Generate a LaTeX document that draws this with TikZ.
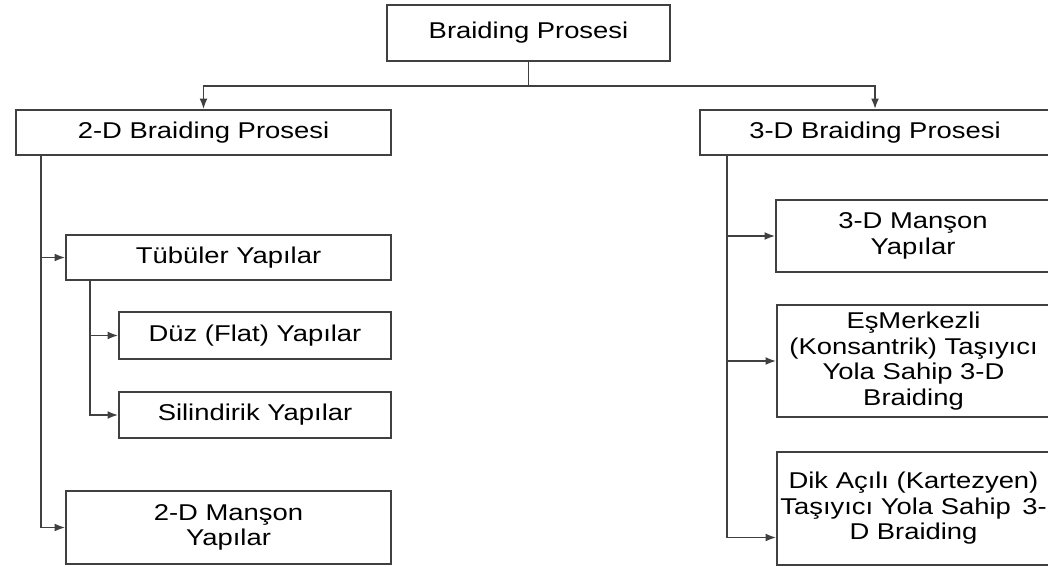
\documentclass[tikz,border=0pt]{standalone}
\usepackage{fontspec}
\setmainfont[FakeStretch=1.2]{Liberation Sans}
\usetikzlibrary{arrows.meta}

\tikzset{
  box/.style={draw=black!75, line width=1pt, rectangle, align=center,
    inner sep=0pt, font=\fontsize{13}{14.5}\selectfont},
  arr/.style={draw=black!75, line width=1pt, -{Latex[length=6pt,width=4.5pt]}},
  link/.style={draw=black!75, line width=1pt}
}

\begin{document}
\begin{tikzpicture}[x=0.02cm, y=-0.02cm]
    \useasboundingbox (0,0) rectangle (1048,567);
    % upper level
    \node[box, minimum width=5.66cm, minimum height=1.12cm] (top) at (528.5,33) {Braiding Prosesi};
    \node[box, minimum width=7.5cm, minimum height=0.9cm] (d2) at (203.5,132.5) {2-D Braiding Prosesi};
    \node[box, minimum width=7.0cm, minimum height=0.9cm] (d3) at (875,132.5) {3-D Braiding Prosesi};
    % 2-D side
    \node[box, minimum width=6.5cm, minimum height=0.9cm] (tub) at (228.5,257.5) {Tübüler Yapılar};
    \node[box, minimum width=5.44cm, minimum height=0.94cm] (duz) at (255,335.5) {Düz (Flat) Yapılar};
    \node[box, minimum width=5.44cm, minimum height=0.92cm] (sil) at (255,415) {Silindirik Yapılar};
    \node[box, minimum width=6.5cm, minimum height=1.46cm] (m2) at (228.5,527.5) {2-D Manşon\\ Yapılar};
    % 3-D side
    \node[box, minimum width=5.48cm, minimum height=1.44cm] (m3) at (913,236) {3-D Manşon\\ Yapılar};
    \node[box, minimum width=5.46cm, minimum height=2.24cm] (esm) at (913.5,361) {EşMerkezli\\ (Konsantrik) Taşıyıcı\\ Yola Sahip 3-D\\ Braiding};
    \node[box, minimum width=5.46cm, minimum height=2.26cm] (dik) at (913.5,508.5) {Dik Açılı (Kartezyen)\\ Taşıyıcı Yola Sahip\ \,3-\\ D Braiding};

    % branch points
    \coordinate (l2) at (41,155);
    \coordinate (lt) at (90,280);
    \coordinate (r3) at (727,155);

    \draw[arr] (top.south) -- ++(0,24) -| (d2.north);
    \draw[arr] (top.south) -- ++(0,24) -| (d3.north);
    \draw[arr] (l2) |- (tub.west);
    \draw[arr] (l2) |- (m2.west);
    \draw[arr] (lt) |- (duz.west);
    \draw[arr] (lt) |- (sil.west);
    \draw[arr] (r3) |- (m3.west);
    \draw[arr] (r3) |- (esm.west);
    \draw[arr] (r3) |- ([yshift=-0.58cm]dik.west);
\end{tikzpicture}
\end{document}
